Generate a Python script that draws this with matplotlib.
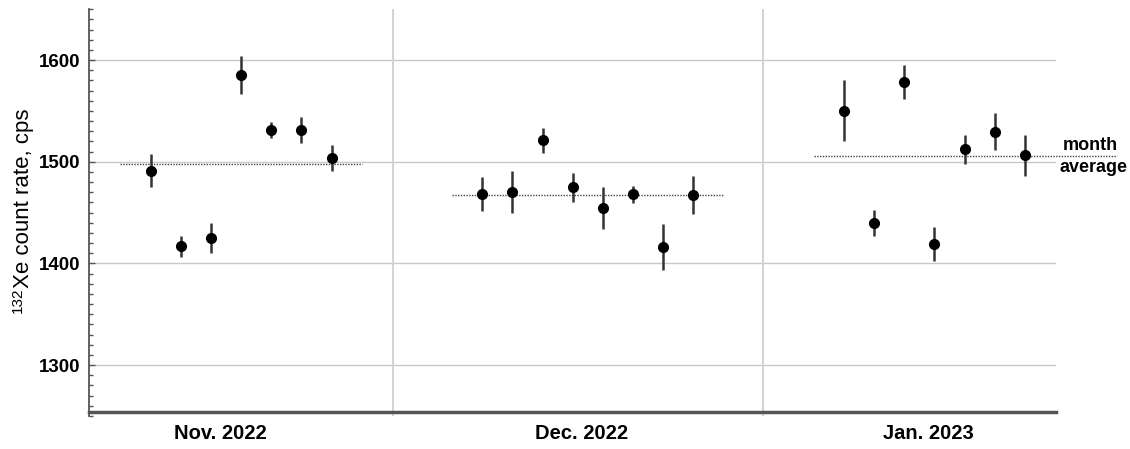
import numpy as np
import matplotlib.pyplot as plt
from matplotlib.ticker import MultipleLocator

plt.rcParams['font.family'] = ['Liberation Sans', 'DejaVu Sans']

# measurement index (one per run) and count rate with error
nov_x = [2, 3, 4, 5, 6, 7, 8]
nov_y = [1491.3, 1416.9, 1425.0, 1585.2, 1531.4, 1531.4, 1503.8]
nov_err = [16.5, 10.5, 14.5, 18.4, 8.2, 12.5, 12.6]

dec_x = [13, 14, 15, 16, 17, 18, 19, 20]
dec_y = [1468.1, 1470.6, 1521.2, 1475.0, 1454.3, 1468.1, 1416.2, 1467.4]
dec_err = [16.6, 20.8, 12.5, 14.4, 20.5, 8.5, 22.5, 18.4]

jan_x = [25, 26, 27, 28, 29, 30, 31]
jan_y = [1550.4, 1440.1, 1578.6, 1419.4, 1512.4, 1529.7, 1506.4]
jan_err = [30.3, 12.6, 16.5, 16.6, 14.3, 18.5, 20.3]

months = ["Nov. 2022", "Dec. 2022", "Jan. 2023"]
month_label_x = [4.32, 16.3, 27.79]
month_bounds = [10.04, 22.32]
avg_spans = [(1, 9), (12, 21), (24, 34.04)]

fig = plt.figure(figsize=(11.3, 4.49), dpi=100)
ax = fig.add_axes([88.5 / 1130, 1 - 416 / 449, (1056 - 88.5) / 1130, (416 - 9.3) / 449])

ax.spines['top'].set_visible(False)
ax.spines['right'].set_visible(False)
ax.spines['left'].set_color('#555555')
ax.spines['left'].set_linewidth(1.3)
ax.spines['bottom'].set_position(('data', 1254))
ax.spines['bottom'].set_color('#555555')
ax.spines['bottom'].set_linewidth(2.5)

ax.set_xlim(-0.06, 32.03)
ax.set_ylim(1250, 1650)

for xs, ys, es, span in zip([nov_x, dec_x, jan_x], [nov_y, dec_y, jan_y],
                            [nov_err, dec_err, jan_err], avg_spans):
    ax.errorbar(xs, ys, yerr=es, fmt='o', color='black', ecolor='#333333',
                elinewidth=1.8, capsize=0, markersize=7, zorder=4)
    ax.hlines(np.mean(ys), span[0], span[1], colors='#444444',
              linestyles=(0, (1, 1)), linewidth=1.0, zorder=3, clip_on=False)

for b in month_bounds:
    ax.axvline(b, color='#d4d4d4', linewidth=1.5, zorder=1)

ax.set_yticks([1300, 1400, 1500, 1600])
ax.yaxis.set_minor_locator(MultipleLocator(10))
ax.grid(axis='y', which='major', color='#c8c8c8', linewidth=1.0, zorder=0)
ax.set_axisbelow(True)
ax.tick_params(axis='y', which='both', direction='in', color='#555555',
               labelsize=13.5, pad=6)
ax.tick_params(axis='y', which='major', length=4, width=1)
ax.tick_params(axis='y', which='minor', length=3, width=1)
for lab in ax.get_yticklabels():
    lab.set_fontweight('bold')

ax.set_xticks(month_label_x)
ax.set_xticklabels(months, fontsize=14.5, fontweight='bold')
ax.tick_params(axis='x', length=0, pad=9)

# y label: superscript mass number + main text
fig.text(23.5 / 1130, 1 - 288 / 449, "Xe count rate, cps", rotation=90,
         ha='center', va='bottom', fontsize=16)
fig.text(18 / 1130, 1 - 313 / 449, "132", rotation=90,
         ha='center', va='bottom', fontsize=11)

fig.text(1090 / 1130, 1 - 145.7 / 449, "month",
         ha='center', va='center', fontsize=13, fontweight='bold')
fig.text(1093 / 1130, 1 - 167.7 / 449, "average",
         ha='center', va='center', fontsize=13, fontweight='bold')

plt.savefig("out.png", dpi=100)
